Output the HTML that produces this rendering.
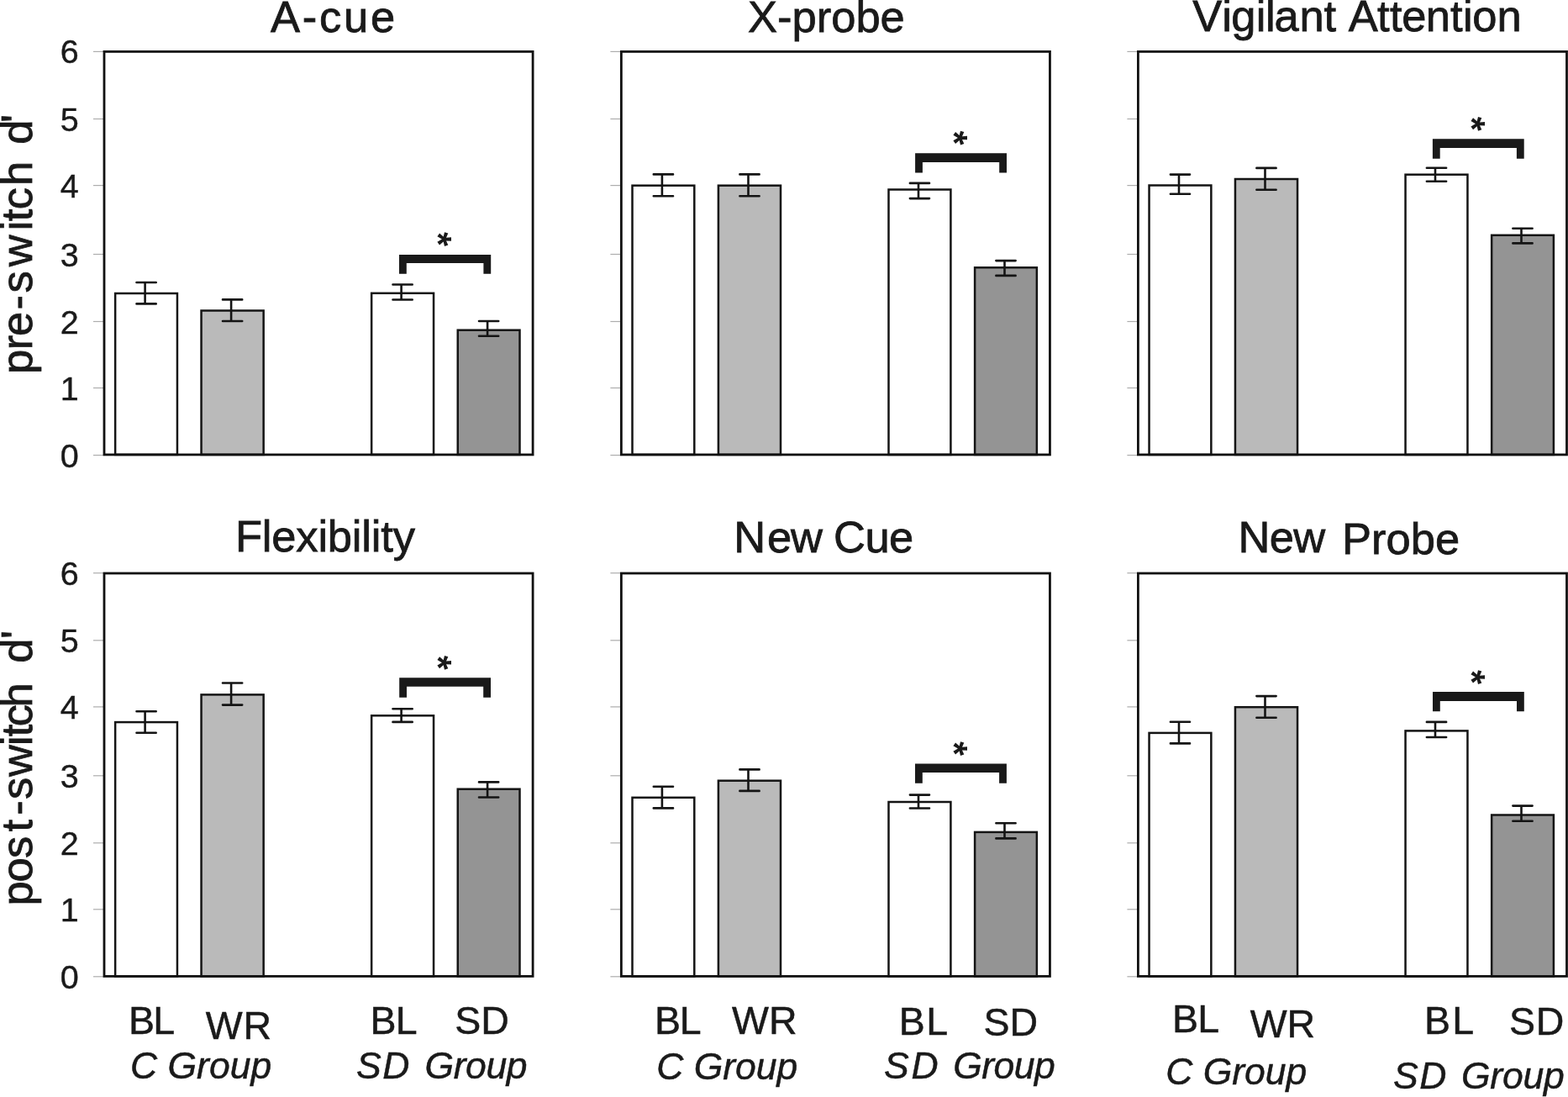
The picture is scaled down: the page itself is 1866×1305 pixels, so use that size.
<!DOCTYPE html>
<html><head><meta charset="utf-8"><title>Figure</title>
<style>
html,body{margin:0;padding:0;background:#fff;}
body{width:1866px;height:1305px;overflow:hidden;}
svg{display:block;}
svg text{font-family:"Liberation Sans",Arial,sans-serif;fill:#1a1a1a;}
</style></head>
<body>
<svg width="1866" height="1305" viewBox="0 0 1866 1305">
<rect width="1866" height="1305" fill="#ffffff"/>
<line x1="111.0" y1="541.5" x2="124.0" y2="541.5" stroke="#adadad" stroke-width="1.2"/>
<line x1="111.0" y1="461.5" x2="124.0" y2="461.5" stroke="#adadad" stroke-width="1.2"/>
<line x1="111.0" y1="382.5" x2="124.0" y2="382.5" stroke="#adadad" stroke-width="1.2"/>
<line x1="111.0" y1="302.5" x2="124.0" y2="302.5" stroke="#adadad" stroke-width="1.2"/>
<line x1="111.0" y1="220.6" x2="124.0" y2="220.6" stroke="#adadad" stroke-width="1.2"/>
<line x1="111.0" y1="141.5" x2="124.0" y2="141.5" stroke="#adadad" stroke-width="1.2"/>
<line x1="111.0" y1="61.4" x2="124.0" y2="61.4" stroke="#adadad" stroke-width="1.2"/>
<rect x="137.15" y="349.00" width="73.80" height="191.90" fill="#ffffff" stroke="#141414" stroke-width="2.5"/>
<rect x="239.55" y="369.50" width="74.10" height="171.40" fill="#bababa" stroke="#141414" stroke-width="2.5"/>
<rect x="442.15" y="348.80" width="73.90" height="192.10" fill="#ffffff" stroke="#141414" stroke-width="2.5"/>
<rect x="544.75" y="392.70" width="73.75" height="148.20" fill="#949494" stroke="#141414" stroke-width="2.5"/>
<rect x="124.00" y="61.40" width="510.10" height="479.50" fill="none" stroke="#111" stroke-width="2.8"/>
<path d="M172.6 336.0V361.4M162.5 336.0H185.7M162.5 361.4H185.7" stroke="#141414" stroke-width="2.6" stroke-linecap="round" fill="none"/>
<path d="M275.1 356.4V382.0M265.0 356.4H288.2M265.0 382.0H288.2" stroke="#141414" stroke-width="2.6" stroke-linecap="round" fill="none"/>
<path d="M477.6 338.5V356.5M467.5 338.5H490.7M467.5 356.5H490.7" stroke="#141414" stroke-width="2.6" stroke-linecap="round" fill="none"/>
<path d="M580.1 382.0V399.7M570.0 382.0H593.2M570.0 399.7H593.2" stroke="#141414" stroke-width="2.6" stroke-linecap="round" fill="none"/>
<path d="M475 303H584.2V325.8H575.4V313.1H483.8V325.8H475Z" fill="#191919"/>
<g transform="translate(528.3 284.5) rotate(90)"><text x="-8.5" y="22.0" font-size="43.5" font-weight="bold">*</text></g>
<line x1="726.4" y1="541.5" x2="739.4" y2="541.5" stroke="#adadad" stroke-width="1.2"/>
<line x1="726.4" y1="461.5" x2="739.4" y2="461.5" stroke="#adadad" stroke-width="1.2"/>
<line x1="726.4" y1="382.5" x2="739.4" y2="382.5" stroke="#adadad" stroke-width="1.2"/>
<line x1="726.4" y1="302.5" x2="739.4" y2="302.5" stroke="#adadad" stroke-width="1.2"/>
<line x1="726.4" y1="220.6" x2="739.4" y2="220.6" stroke="#adadad" stroke-width="1.2"/>
<line x1="726.4" y1="141.5" x2="739.4" y2="141.5" stroke="#adadad" stroke-width="1.2"/>
<line x1="726.4" y1="61.4" x2="739.4" y2="61.4" stroke="#adadad" stroke-width="1.2"/>
<rect x="752.50" y="220.70" width="73.80" height="320.20" fill="#ffffff" stroke="#141414" stroke-width="2.5"/>
<rect x="854.90" y="220.70" width="74.10" height="320.20" fill="#bababa" stroke="#141414" stroke-width="2.5"/>
<rect x="1057.50" y="225.50" width="73.90" height="315.40" fill="#ffffff" stroke="#141414" stroke-width="2.5"/>
<rect x="1160.10" y="318.30" width="73.75" height="222.60" fill="#949494" stroke="#141414" stroke-width="2.5"/>
<rect x="739.35" y="61.40" width="510.10" height="479.50" fill="none" stroke="#111" stroke-width="2.8"/>
<path d="M787.9 207.4V233.3M777.8 207.4H801.0M777.8 233.3H801.0" stroke="#141414" stroke-width="2.6" stroke-linecap="round" fill="none"/>
<path d="M890.5 207.4V233.3M880.4 207.4H903.6M880.4 233.3H903.6" stroke="#141414" stroke-width="2.6" stroke-linecap="round" fill="none"/>
<path d="M1093.0 217.9V236.1M1082.9 217.9H1106.0M1082.9 236.1H1106.0" stroke="#141414" stroke-width="2.6" stroke-linecap="round" fill="none"/>
<path d="M1195.5 310.1V327.9M1185.4 310.1H1208.6M1185.4 327.9H1208.6" stroke="#141414" stroke-width="2.6" stroke-linecap="round" fill="none"/>
<path d="M1089.1 182.2H1198V205.6H1189.2V192.9H1097.9V205.6H1089.1Z" fill="#191919"/>
<g transform="translate(1142.4 163.9) rotate(90)"><text x="-8.5" y="22.0" font-size="43.5" font-weight="bold">*</text></g>
<line x1="1341.4" y1="541.5" x2="1354.4" y2="541.5" stroke="#adadad" stroke-width="1.2"/>
<line x1="1341.4" y1="461.5" x2="1354.4" y2="461.5" stroke="#adadad" stroke-width="1.2"/>
<line x1="1341.4" y1="382.5" x2="1354.4" y2="382.5" stroke="#adadad" stroke-width="1.2"/>
<line x1="1341.4" y1="302.5" x2="1354.4" y2="302.5" stroke="#adadad" stroke-width="1.2"/>
<line x1="1341.4" y1="220.6" x2="1354.4" y2="220.6" stroke="#adadad" stroke-width="1.2"/>
<line x1="1341.4" y1="141.5" x2="1354.4" y2="141.5" stroke="#adadad" stroke-width="1.2"/>
<line x1="1341.4" y1="61.4" x2="1354.4" y2="61.4" stroke="#adadad" stroke-width="1.2"/>
<rect x="1367.55" y="220.50" width="73.80" height="320.40" fill="#ffffff" stroke="#141414" stroke-width="2.5"/>
<rect x="1469.95" y="213.00" width="74.10" height="327.90" fill="#bababa" stroke="#141414" stroke-width="2.5"/>
<rect x="1672.55" y="207.70" width="73.90" height="333.20" fill="#ffffff" stroke="#141414" stroke-width="2.5"/>
<rect x="1775.15" y="279.80" width="73.75" height="261.10" fill="#949494" stroke="#141414" stroke-width="2.5"/>
<rect x="1354.40" y="61.40" width="510.10" height="479.50" fill="none" stroke="#111" stroke-width="2.8"/>
<path d="M1403.0 207.6V230.8M1392.9 207.6H1416.0M1392.9 230.8H1416.0" stroke="#141414" stroke-width="2.6" stroke-linecap="round" fill="none"/>
<path d="M1505.5 199.9V225.8M1495.4 199.9H1518.6M1495.4 225.8H1518.6" stroke="#141414" stroke-width="2.6" stroke-linecap="round" fill="none"/>
<path d="M1708.0 199.7V215.8M1697.9 199.7H1721.1M1697.9 215.8H1721.1" stroke="#141414" stroke-width="2.6" stroke-linecap="round" fill="none"/>
<path d="M1810.5 271.7V289.4M1800.4 271.7H1823.6M1800.4 289.4H1823.6" stroke="#141414" stroke-width="2.6" stroke-linecap="round" fill="none"/>
<path d="M1704.9 165.2H1813.7V188.7H1804.9V175.9H1713.7V188.7H1704.9Z" fill="#191919"/>
<g transform="translate(1758.4 147.2) rotate(90)"><text x="-8.5" y="22.0" font-size="43.5" font-weight="bold">*</text></g>
<line x1="111.0" y1="1161.8" x2="124.0" y2="1161.8" stroke="#adadad" stroke-width="1.2"/>
<line x1="111.0" y1="1081.8" x2="124.0" y2="1081.8" stroke="#adadad" stroke-width="1.2"/>
<line x1="111.0" y1="1002.8" x2="124.0" y2="1002.8" stroke="#adadad" stroke-width="1.2"/>
<line x1="111.0" y1="922.8" x2="124.0" y2="922.8" stroke="#adadad" stroke-width="1.2"/>
<line x1="111.0" y1="840.9" x2="124.0" y2="840.9" stroke="#adadad" stroke-width="1.2"/>
<line x1="111.0" y1="761.8" x2="124.0" y2="761.8" stroke="#adadad" stroke-width="1.2"/>
<line x1="111.0" y1="681.7" x2="124.0" y2="681.7" stroke="#adadad" stroke-width="1.2"/>
<rect x="137.15" y="859.10" width="73.80" height="302.30" fill="#ffffff" stroke="#141414" stroke-width="2.5"/>
<rect x="239.55" y="826.40" width="74.10" height="335.00" fill="#bababa" stroke="#141414" stroke-width="2.5"/>
<rect x="442.15" y="851.30" width="73.90" height="310.10" fill="#ffffff" stroke="#141414" stroke-width="2.5"/>
<rect x="544.75" y="938.70" width="73.75" height="222.70" fill="#949494" stroke="#141414" stroke-width="2.5"/>
<rect x="124.00" y="682.00" width="510.10" height="479.40" fill="none" stroke="#111" stroke-width="2.8"/>
<path d="M172.6 846.3V871.8M162.5 846.3H185.7M162.5 871.8H185.7" stroke="#141414" stroke-width="2.6" stroke-linecap="round" fill="none"/>
<path d="M275.1 812.5V838.6M265.0 812.5H288.2M265.0 838.6H288.2" stroke="#141414" stroke-width="2.6" stroke-linecap="round" fill="none"/>
<path d="M477.6 843.2V858.9M467.5 843.2H490.7M467.5 858.9H490.7" stroke="#141414" stroke-width="2.6" stroke-linecap="round" fill="none"/>
<path d="M580.1 930.4V948.5M570.0 930.4H593.2M570.0 948.5H593.2" stroke="#141414" stroke-width="2.6" stroke-linecap="round" fill="none"/>
<path d="M475.2 806.3H584V829.7H575.2V816.7H484.0V829.7H475.2Z" fill="#191919"/>
<g transform="translate(528.4 788.2) rotate(90)"><text x="-8.5" y="22.0" font-size="43.5" font-weight="bold">*</text></g>
<line x1="726.4" y1="1161.8" x2="739.4" y2="1161.8" stroke="#adadad" stroke-width="1.2"/>
<line x1="726.4" y1="1081.8" x2="739.4" y2="1081.8" stroke="#adadad" stroke-width="1.2"/>
<line x1="726.4" y1="1002.8" x2="739.4" y2="1002.8" stroke="#adadad" stroke-width="1.2"/>
<line x1="726.4" y1="922.8" x2="739.4" y2="922.8" stroke="#adadad" stroke-width="1.2"/>
<line x1="726.4" y1="840.9" x2="739.4" y2="840.9" stroke="#adadad" stroke-width="1.2"/>
<line x1="726.4" y1="761.8" x2="739.4" y2="761.8" stroke="#adadad" stroke-width="1.2"/>
<line x1="726.4" y1="681.7" x2="739.4" y2="681.7" stroke="#adadad" stroke-width="1.2"/>
<rect x="752.50" y="948.80" width="73.80" height="212.60" fill="#ffffff" stroke="#141414" stroke-width="2.5"/>
<rect x="854.90" y="928.70" width="74.10" height="232.70" fill="#bababa" stroke="#141414" stroke-width="2.5"/>
<rect x="1057.50" y="954.00" width="73.90" height="207.40" fill="#ffffff" stroke="#141414" stroke-width="2.5"/>
<rect x="1160.10" y="989.90" width="73.75" height="171.50" fill="#949494" stroke="#141414" stroke-width="2.5"/>
<rect x="739.35" y="682.00" width="510.10" height="479.40" fill="none" stroke="#111" stroke-width="2.8"/>
<path d="M787.9 935.8V961.4M777.8 935.8H801.0M777.8 961.4H801.0" stroke="#141414" stroke-width="2.6" stroke-linecap="round" fill="none"/>
<path d="M890.5 915.4V940.9M880.4 915.4H903.6M880.4 940.9H903.6" stroke="#141414" stroke-width="2.6" stroke-linecap="round" fill="none"/>
<path d="M1093.0 945.6V961.5M1082.9 945.6H1106.0M1082.9 961.5H1106.0" stroke="#141414" stroke-width="2.6" stroke-linecap="round" fill="none"/>
<path d="M1195.5 979.3V997.4M1185.4 979.3H1208.6M1185.4 997.4H1208.6" stroke="#141414" stroke-width="2.6" stroke-linecap="round" fill="none"/>
<path d="M1089 908.5H1197.9V931.8H1189.1V919H1097.8V931.8H1089Z" fill="#191919"/>
<g transform="translate(1142.3 890.5) rotate(90)"><text x="-8.5" y="22.0" font-size="43.5" font-weight="bold">*</text></g>
<line x1="1341.4" y1="1161.8" x2="1354.4" y2="1161.8" stroke="#adadad" stroke-width="1.2"/>
<line x1="1341.4" y1="1081.8" x2="1354.4" y2="1081.8" stroke="#adadad" stroke-width="1.2"/>
<line x1="1341.4" y1="1002.8" x2="1354.4" y2="1002.8" stroke="#adadad" stroke-width="1.2"/>
<line x1="1341.4" y1="922.8" x2="1354.4" y2="922.8" stroke="#adadad" stroke-width="1.2"/>
<line x1="1341.4" y1="840.9" x2="1354.4" y2="840.9" stroke="#adadad" stroke-width="1.2"/>
<line x1="1341.4" y1="761.8" x2="1354.4" y2="761.8" stroke="#adadad" stroke-width="1.2"/>
<line x1="1341.4" y1="681.7" x2="1354.4" y2="681.7" stroke="#adadad" stroke-width="1.2"/>
<rect x="1367.55" y="871.90" width="73.80" height="289.50" fill="#ffffff" stroke="#141414" stroke-width="2.5"/>
<rect x="1469.95" y="841.20" width="74.10" height="320.20" fill="#bababa" stroke="#141414" stroke-width="2.5"/>
<rect x="1672.55" y="869.40" width="73.90" height="292.00" fill="#ffffff" stroke="#141414" stroke-width="2.5"/>
<rect x="1775.15" y="969.50" width="73.75" height="191.90" fill="#949494" stroke="#141414" stroke-width="2.5"/>
<rect x="1354.40" y="682.00" width="510.10" height="479.40" fill="none" stroke="#111" stroke-width="2.8"/>
<path d="M1403.0 858.7V884.4M1392.9 858.7H1416.0M1392.9 884.4H1416.0" stroke="#141414" stroke-width="2.6" stroke-linecap="round" fill="none"/>
<path d="M1505.5 828.1V853.8M1495.4 828.1H1518.6M1495.4 853.8H1518.6" stroke="#141414" stroke-width="2.6" stroke-linecap="round" fill="none"/>
<path d="M1708.0 858.9V877.0M1697.9 858.9H1721.1M1697.9 877.0H1721.1" stroke="#141414" stroke-width="2.6" stroke-linecap="round" fill="none"/>
<path d="M1810.5 958.6V976.7M1800.4 958.6H1823.6M1800.4 976.7H1823.6" stroke="#141414" stroke-width="2.6" stroke-linecap="round" fill="none"/>
<path d="M1705 823.1H1813.8V846.3H1805.0V833.9H1713.8V846.3H1705Z" fill="#191919"/>
<g transform="translate(1758.3 805.4) rotate(90)"><text x="-8.5" y="22.0" font-size="43.5" font-weight="bold">*</text></g>
<text x="93.8" y="555.5" font-size="39.5" text-anchor="end" stroke="#1a1a1a" stroke-width="0.4">0</text>
<text x="93.8" y="475.5" font-size="39.5" text-anchor="end" stroke="#1a1a1a" stroke-width="0.4">1</text>
<text x="93.8" y="396.5" font-size="39.5" text-anchor="end" stroke="#1a1a1a" stroke-width="0.4">2</text>
<text x="93.8" y="316.5" font-size="39.5" text-anchor="end" stroke="#1a1a1a" stroke-width="0.4">3</text>
<text x="93.8" y="234.6" font-size="39.5" text-anchor="end" stroke="#1a1a1a" stroke-width="0.4">4</text>
<text x="93.8" y="155.5" font-size="39.5" text-anchor="end" stroke="#1a1a1a" stroke-width="0.4">5</text>
<text x="93.8" y="75.4" font-size="39.5" text-anchor="end" stroke="#1a1a1a" stroke-width="0.4">6</text>
<text x="93.8" y="1175.8" font-size="39.5" text-anchor="end" stroke="#1a1a1a" stroke-width="0.4">0</text>
<text x="93.8" y="1095.8" font-size="39.5" text-anchor="end" stroke="#1a1a1a" stroke-width="0.4">1</text>
<text x="93.8" y="1016.8" font-size="39.5" text-anchor="end" stroke="#1a1a1a" stroke-width="0.4">2</text>
<text x="93.8" y="936.8" font-size="39.5" text-anchor="end" stroke="#1a1a1a" stroke-width="0.4">3</text>
<text x="93.8" y="854.9" font-size="39.5" text-anchor="end" stroke="#1a1a1a" stroke-width="0.4">4</text>
<text x="93.8" y="775.8" font-size="39.5" text-anchor="end" stroke="#1a1a1a" stroke-width="0.4">5</text>
<text x="93.8" y="695.7" font-size="39.5" text-anchor="end" stroke="#1a1a1a" stroke-width="0.4">6</text>
<text x="322.0" y="37.7" font-size="52.5" textLength="148.2" lengthAdjust="spacing" stroke="#1a1a1a" stroke-width="0.8">A-cue</text>
<text x="890.0" y="37.9" font-size="52.5" stroke="#1a1a1a" stroke-width="0.8">X-probe</text>
<text x="1419.2 1454.3 1465.3 1494.8 1506.1 1516.5 1546.5 1575.4 1591.2 1604.8 1639.1 1653.9 1668.3 1696.8 1726.0 1741.1 1752.3 1781.5" y="37.3" font-size="52.5" stroke="#1a1a1a" stroke-width="0.8">Vigilant Attention</text>
<text x="280.0" y="655.7" font-size="52.5" textLength="213.9" lengthAdjust="spacing" stroke="#1a1a1a" stroke-width="0.8">Flexibility</text>
<text x="873.2 913.0 941.1 956.9 991.9 1029.6 1058.1" y="656.6" font-size="52.5" stroke="#1a1a1a" stroke-width="0.8">New Cue</text>
<text x="1473.5" y="657.1" font-size="52.5" textLength="103.7" lengthAdjust="spacing" stroke="#1a1a1a" stroke-width="0.8">New</text>
<text x="1597.0" y="659.0" font-size="52.5" stroke="#1a1a1a" stroke-width="0.8">Probe</text>
<text x="152.9" y="1229.6" font-size="46.5" textLength="55.2" lengthAdjust="spacing" stroke="#1a1a1a" stroke-width="0.5">BL</text>
<text x="244.8" y="1235.7" font-size="46.5" textLength="78.3" lengthAdjust="spacing" stroke="#1a1a1a" stroke-width="0.5">WR</text>
<text x="440.4" y="1230.4" font-size="46.5" textLength="56.2" lengthAdjust="spacing" stroke="#1a1a1a" stroke-width="0.5">BL</text>
<text x="541.2" y="1230.4" font-size="46.5" stroke="#1a1a1a" stroke-width="0.5">SD</text>
<text x="779.1" y="1230.4" font-size="46.5" textLength="55.4" lengthAdjust="spacing" stroke="#1a1a1a" stroke-width="0.5">BL</text>
<text x="871.0" y="1230.4" font-size="46.5" stroke="#1a1a1a" stroke-width="0.5">WR</text>
<text x="1069.8" y="1231.4" font-size="46.5" textLength="58.4" lengthAdjust="spacing" stroke="#1a1a1a" stroke-width="0.5">BL</text>
<text x="1170.5" y="1232.3" font-size="46.5" stroke="#1a1a1a" stroke-width="0.5">SD</text>
<text x="1395.0" y="1227.7" font-size="46.5" textLength="56.2" lengthAdjust="spacing" stroke="#1a1a1a" stroke-width="0.5">BL</text>
<text x="1487.7" y="1233.6" font-size="46.5" stroke="#1a1a1a" stroke-width="0.5">WR</text>
<text x="1695.1" y="1229.6" font-size="46.5" textLength="58.9" lengthAdjust="spacing" stroke="#1a1a1a" stroke-width="0.5">BL</text>
<text x="1795.9" y="1230.9" font-size="46.5" textLength="65.4" lengthAdjust="spacing" stroke="#1a1a1a" stroke-width="0.5">SD</text>
<text x="155.0" y="1283.2" font-size="44.5" font-style="italic" stroke="#1a1a1a" stroke-width="0.5">C Group</text>
<text x="424.1" y="1283.2" font-size="44.5" font-style="italic" textLength="63.2" lengthAdjust="spacing" stroke="#1a1a1a" stroke-width="0.5">SD</text>
<text x="505.4" y="1283.2" font-size="44.5" font-style="italic" textLength="122.2" lengthAdjust="spacing" stroke="#1a1a1a" stroke-width="0.5">Group</text>
<text x="781.2" y="1284.0" font-size="44.5" font-style="italic" stroke="#1a1a1a" stroke-width="0.5">C Group</text>
<text x="1052.1" y="1283.2" font-size="44.5" font-style="italic" textLength="64.5" lengthAdjust="spacing" stroke="#1a1a1a" stroke-width="0.5">SD</text>
<text x="1134.3" y="1283.2" font-size="44.5" font-style="italic" textLength="121.4" lengthAdjust="spacing" stroke="#1a1a1a" stroke-width="0.5">Group</text>
<text x="1387.2" y="1290.4" font-size="44.5" font-style="italic" stroke="#1a1a1a" stroke-width="0.5">C Group</text>
<text x="1658.1" y="1295.2" font-size="44.5" font-style="italic" textLength="63.2" lengthAdjust="spacing" stroke="#1a1a1a" stroke-width="0.5">SD</text>
<text x="1738.9" y="1295.2" font-size="44.5" font-style="italic" textLength="122.8" lengthAdjust="spacing" stroke="#1a1a1a" stroke-width="0.5">Group</text>
<text transform="rotate(-90)" x="-445.1 -416.2 -400.1 -368.6 -348.5 -317.3 -274.2 -263.3 -249.3 -220.9 -205.1 -171.8 -146.1" y="38.0" font-size="52.5" stroke="#1a1a1a" stroke-width="0.8">pre-switch d'</text>
<text transform="rotate(-90)" x="-1077.6 -1049.5 -1021.1 -989.6 -969.8 -951.0 -924.0 -887.1 -876.3 -864.2 -841.4 -825.7 -788.7 -759.9" y="37.8" font-size="52.5" stroke="#1a1a1a" stroke-width="0.8">post-switch d'</text>
</svg>
</body></html>
